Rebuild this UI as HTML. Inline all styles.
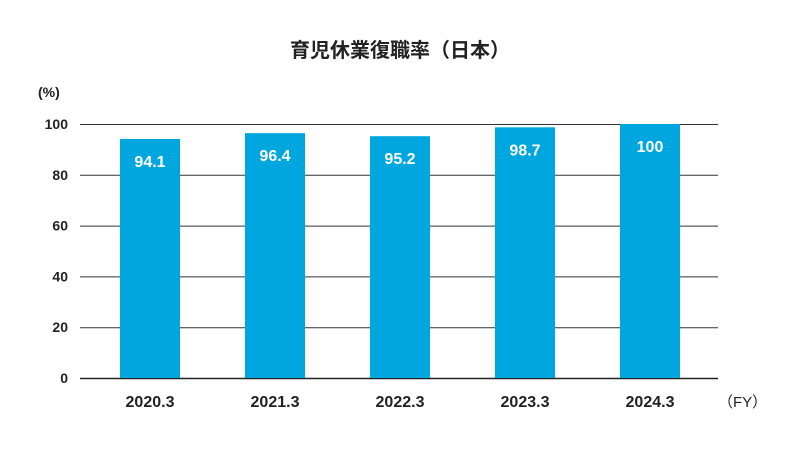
<!DOCTYPE html>
<html><head><meta charset="utf-8"><style>
body{margin:0;background:#fff;}
svg text{font-family:"Liberation Sans","Noto Sans CJK JP",sans-serif;}
</style></head><body>
<svg id="chart" width="800" height="450" viewBox="0 0 800 450" xmlns="http://www.w3.org/2000/svg">
<text x="400" y="57" text-anchor="middle" font-size="20" font-weight="bold" fill="#222">育児休業復職率（日本）</text>
<text x="38" y="97" font-size="14" font-weight="bold" fill="#222">(%)</text>
<text x="718" y="407" font-size="15" fill="#222">（FY）</text>
<g id="grid"></g><g id="bars"></g>
</svg>
<script>
const categories=["2020.3","2021.3","2022.3","2023.3","2024.3"];
const values=[94.1,96.4,95.2,98.7,100];
const labels=["94.1","96.4","95.2","98.7","100"];
const ticks=[0,20,40,60,80,100];
const NS="http://www.w3.org/2000/svg";
const y=v=>378-v*2.54;
const x=i=>150+i*125;
const grid=document.getElementById('grid'),bars=document.getElementById('bars');
function mk(tag,attrs,parent){const e=document.createElementNS(NS,tag);for(const k in attrs)e.setAttribute(k,attrs[k]);parent.appendChild(e);return e;}
ticks.forEach(t=>{
  const l=mk('line',{x1:80,x2:718,y1:y(t)+0.5,y2:y(t)+0.5,stroke:t===0?'#222':'#333','stroke-width':t===0?1.5:1},grid);
  
  
  const tx=mk('text',{x:68,y:y(t)+5,'text-anchor':'end','font-size':14,'font-weight':'bold',fill:'#222'},grid);
  tx.textContent=t;
  
  
});
categories.forEach((c,i)=>{
  const r=mk('rect',{x:x(i)-30,y:y(values[i]),width:60,height:y(0)-y(values[i]),fill:'#00a6de'},bars);
  
  
  const v=mk('text',{x:x(i),y:y(values[i])+28,'text-anchor':'middle','font-size':16,'font-weight':'bold',fill:'#fff'},bars);
  v.textContent=labels[i];
  
  
  const xl=mk('text',{x:x(i),y:407,'text-anchor':'middle','font-size':16,'font-weight':'bold',fill:'#222'},bars);
  xl.textContent=c;
  
  
});
</script>
</body></html>
